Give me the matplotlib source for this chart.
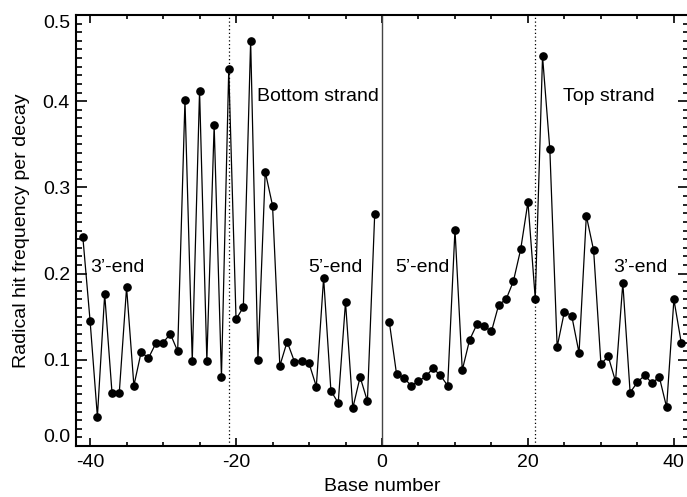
import matplotlib
matplotlib.use("Agg")
import matplotlib.pyplot as plt
import numpy as np
from matplotlib.ticker import MultipleLocator

plt.rcParams['font.family'] = ['Liberation Sans', 'DejaVu Sans']
plt.rcParams['axes.unicode_minus'] = False

# bottom strand, bases -41 .. -1
bottom_x = list(range(-41, 0))
bottom_y = [0.243, 0.145, 0.034, 0.176, 0.062, 0.062, 0.184, 0.070, 0.109, 0.102,
            0.119, 0.120, 0.130, 0.110, 0.401, 0.099, 0.412, 0.099, 0.372, 0.080,
            0.437, 0.147, 0.161, 0.470, 0.100, 0.318, 0.279, 0.093, 0.121, 0.098,
            0.099, 0.096, 0.069, 0.195, 0.064, 0.050, 0.167, 0.044, 0.080, 0.052,
            0.269]

# top strand, bases 1 .. 41
top_x = list(range(1, 42))
top_y = [0.144, 0.083, 0.079, 0.070, 0.075, 0.081, 0.090, 0.082, 0.070, 0.251,
         0.088, 0.123, 0.141, 0.139, 0.133, 0.164, 0.170, 0.191, 0.228, 0.283,
         0.171, 0.452, 0.344, 0.115, 0.156, 0.151, 0.108, 0.267, 0.227, 0.095,
         0.104, 0.075, 0.189, 0.062, 0.074, 0.082, 0.073, 0.080, 0.045, 0.170,
         0.120]

yticks = [0.0, 0.1, 0.2, 0.3, 0.4, 0.5]
ytick_labels = ['0.0', '0.1', '0.2', '0.3', '0.4', '0.5']
xticks = [-40, -20, 0, 20, 40]

fig = plt.figure(figsize=(6.87, 4.97), dpi=100)
ax = fig.add_axes([75.5 / 687, 51 / 497, 613 / 687, 431 / 497])

ax.axvline(0, color='#444444', lw=1.0)
ax.axvline(-21, color='black', lw=0.9, ls=(0, (1, 2)))
ax.axvline(21, color='black', lw=0.9, ls=(0, (1, 2)))

for xs, ys in [(bottom_x, bottom_y), (top_x, top_y)]:
    ax.plot(xs, ys, color='black', lw=0.9, marker='o', ms=5.2)

ax.set_xlim(-42, 42)
ax.set_ylim(0, 0.5)

ax.set_xticks(xticks)
ax.xaxis.set_minor_locator(MultipleLocator(5))
ax.set_yticks(yticks, ytick_labels)
ax.yaxis.set_minor_locator(MultipleLocator(0.01))

ax.tick_params(axis='both', which='both', direction='in', top=True, right=True,
               labelsize=14, width=1.2)
ax.tick_params(axis='y', which='major', length=8, pad=4)
ax.tick_params(axis='y', which='minor', length=4.5)
ax.tick_params(axis='x', which='major', length=6, pad=6)
ax.tick_params(axis='x', which='minor', length=3)

labels = ax.get_yticklabels()
labels[0].set_verticalalignment('bottom')
labels[-1].set_verticalalignment('top')

for sp in ax.spines.values():
    sp.set_linewidth(1.5)

ax.set_xlabel('Base number', fontsize=14, labelpad=5)
ax.set_ylabel('Radical hit frequency per decay', fontsize=14, labelpad=9)

ax.text(-17.1, 0.406, 'Bottom strand', fontsize=14, va='center')
ax.text(24.8, 0.406, 'Top strand', fontsize=14, va='center')
ax.text(-40.0, 0.207, '3\u2019-end', fontsize=14, va='center')
ax.text(-10.1, 0.207, '5\u2019-end', fontsize=14, va='center')
ax.text(1.8, 0.207, '5\u2019-end', fontsize=14, va='center')
ax.text(31.7, 0.207, '3\u2019-end', fontsize=14, va='center')

fig.savefig('out.png', dpi=100)
